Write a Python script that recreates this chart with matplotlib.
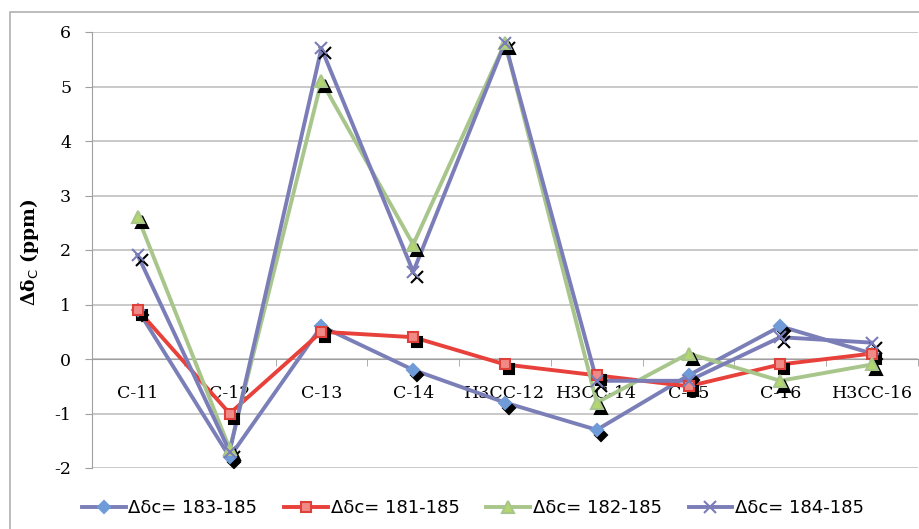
import matplotlib
matplotlib.use("Agg")
import matplotlib.pyplot as plt
from matplotlib.patches import Rectangle
from matplotlib.transforms import offset_copy

plt.rcParams["axes.unicode_minus"] = False

categories = ["C-11", "C-12", "C-13", "C-14", "H3CC-12", "H3CC-14", "C-15", "C-16", "H3CC-16"]
s_183 = [0.9, -1.8, 0.6, -0.2, -0.8, -1.3, -0.3, 0.6, 0.1]
s_181 = [0.9, -1.0, 0.5, 0.4, -0.1, -0.3, -0.5, -0.1, 0.1]
s_182 = [2.6, -1.65, 5.1, 2.1, 5.8, -0.8, 0.1, -0.4, -0.1]
s_184 = [1.9, -1.7, 5.7, 1.6, 5.8, -0.4, -0.4, 0.4, 0.3]
labels = ["Δδc= 183-185", "Δδc= 181-185", "Δδc= 182-185", "Δδc= 184-185"]

fig = plt.figure(figsize=(9.2, 5.29), dpi=100)
ax = fig.add_axes([92/920, 1-468/529, 826/920, 436/529])

# chart area border
fig.patches.append(Rectangle((10/920, -0.1), 1.2, 1-12/529+0.1, transform=fig.transFigure,
                             fill=False, edgecolor="#b0b0b0", lw=1.2))

x = list(range(len(categories)))
series = [
    (s_183, "#7b7fb8", "D", "#6f9bd8", "#6f9bd8", 6),
    (s_181, "#e8403a", "s", "#f08a86", "#e0403a", 7.5),
    (s_182, "#a8c68c", "^", "#b3d66e", "#a8c68c", 8),
    (s_184, "#7b7db8", "x", "#7b7db8", "#7b7db8", 8),
]
shadow = offset_copy(ax.transData, fig=fig, x=4, y=-5, units="dots")
handles = []
for (vals, lc, mk, mf, me, ms), lab in zip(series, labels):
    ax.plot(x, vals, color=lc, lw=2.8, zorder=3)
    ax.plot(x, vals, ls="none", marker=mk, ms=ms, mfc="black", mec="black",
            mew=1.5, transform=shadow, zorder=4)
    ax.plot(x, vals, ls="none", marker=mk, ms=ms, mfc=mf, mec=me, mew=1.5, zorder=5)
    h, = ax.plot([], [], color=lc, lw=2.8, marker=mk, ms=ms, mfc=mf, mec=me, mew=1.5)
    handles.append(h)

ax.set_xlim(-0.5, 8.5)
ax.set_ylim(-2, 6)
ax.set_yticks(range(-2, 7))
ax.yaxis.grid(True, color="#c0c0c0", lw=1.2)
ax.set_axisbelow(True)
for sp in ["top", "right"]:
    ax.spines[sp].set_visible(False)
ax.spines["bottom"].set_position(("data", 0))
ax.spines["bottom"].set_color("#a0a0a0")
ax.spines["left"].set_color("#a0a0a0")
ax.set_xticks([i + 0.5 for i in range(-1, 9)], minor=True)
ax.set_xticks(x)
ax.set_xticklabels(categories, family="DejaVu Serif", fontsize=12.5)
ax.tick_params(axis="x", which="major", length=0, pad=19)
ax.tick_params(axis="x", which="minor", length=5, color="#a0a0a0", direction="out")
ax.tick_params(axis="y", length=5, color="#a0a0a0", pad=10)
for t in ax.get_yticklabels():
    t.set_family("DejaVu Serif")
    t.set_fontsize(12.5)

fig.text(30/920, 1-252/529, r"Δδ$_\mathrm{C}$ (ppm)", rotation=90, va="center", ha="center",
         family="DejaVu Serif", fontweight="bold", fontsize=13.5)

fig.legend(handles=handles, labels=labels, loc="center", bbox_to_anchor=(473/920, 1-508/529),
           ncol=4, frameon=False, handlelength=2.4, columnspacing=1.5, handletextpad=0.15,
           prop={"family": ["DejaVu Sans"], "size": 13})

fig.savefig("out.png", dpi=100)
